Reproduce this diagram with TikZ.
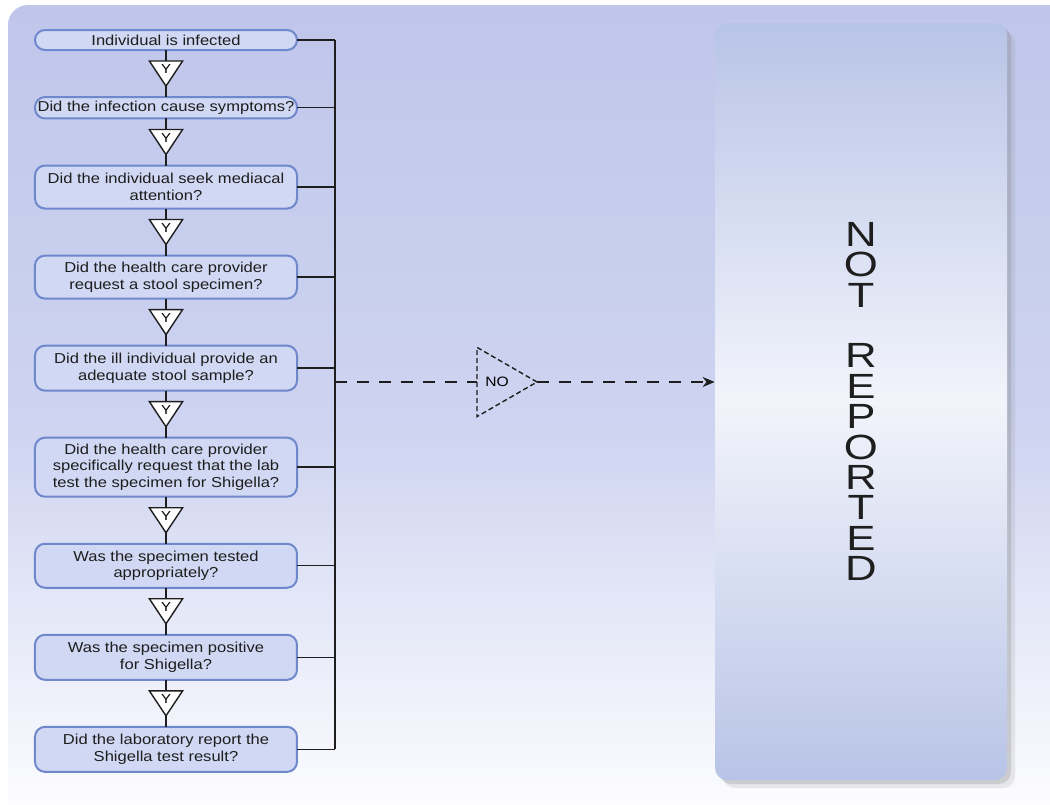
\documentclass[tikz,border=0pt]{standalone}
\usepackage{fontspec}
\setmainfont{Liberation Sans}[FakeStretch=1.15]
\newfontfamily\ymarkfont{Liberation Sans}
\newfontfamily\stackfont{Liberation Sans}[FakeStretch=1.25]
\usepackage{xcolor}
\definecolor{pagetop}{HTML}{C0C6EA}
\definecolor{pagemid}{HTML}{CDD3F0}
\definecolor{boxfill}{HTML}{D0D8F3}
\definecolor{boxborder}{HTML}{6F88CC}
\definecolor{reportfill}{HTML}{B8C4E7}
\definecolor{reportglow}{HTML}{F2F4FB}
\definecolor{linecolor}{HTML}{1E1E1E}
\usepackage{tikz}
\usetikzlibrary{positioning,arrows.meta,shapes.geometric,shadows}
\tikzset{
    question/.style={
        rectangle,
        rounded corners=5pt,
        draw=boxborder,
        fill=boxfill,
        text=linecolor,
        line width=1pt,
        minimum width=131pt,
        minimum height=22pt,
        inner xsep=1pt,
        inner ysep=2pt,
        outer sep=0pt,
        align=center,
        font=\fontsize{7.2}{8.3}\selectfont,
    },
    yesmark/.style={
        regular polygon,
        regular polygon sides=3,
        shape border rotate=180,
        draw=linecolor,
        fill=white,
        line width=0.7pt,
        minimum size=16.7pt,
        inner sep=0pt,
        outer sep=0pt,
        xscale=1.15,
        font=\ymarkfont\fontsize{6.5}{7}\selectfont,
    },
    nomark/.style={
        regular polygon,
        regular polygon sides=3,
        shape border rotate=270,
        draw=linecolor,
        dash pattern=on 2.5pt off 1.5pt,
        line width=0.7pt,
        minimum size=40pt,
        inner sep=0pt,
        outer sep=0pt,
        font=\fontsize{6.8}{8}\selectfont,
    },
    reportbox/.style={
        rectangle,
        rounded corners=6pt,
        top color=reportfill,
        bottom color=reportfill,
        middle color=reportglow,
        drop shadow={shadow xshift=4pt, shadow yshift=-4pt, opacity=0.15},
        drop shadow={shadow xshift=2pt, shadow yshift=-2pt, opacity=0.25},
        text=linecolor,
        minimum width=146pt,
        minimum height=378.5pt,
        align=center,
        font=\stackfont\fontsize{17.5}{15.2}\selectfont,
    },
    link/.style={
        line width=0.7pt,
        draw=linecolor,
    },
    nolink/.style={
        link,
        dash pattern=on 6pt off 5pt,
    },
    noarrow/.style={
        nolink,
        -{Stealth[length=6pt, width=5pt]},
    },
}

\begin{document}
\begin{tikzpicture}[x=0.5pt, y=-0.5pt, node distance=5.5pt]
    \useasboundingbox (0,0) rectangle (1050,804);

    % Backdrop
    \shade[top color=pagetop, bottom color=white, middle color=pagemid, rounded corners=10pt]
        (8,5) rectangle (1070,830);

    % Question chain
    \node[question, minimum height=10pt] (q1) at (166,40) {Individual is infected};
    \node[yesmark, below=of q1] (y1) {Y};
    \node[question, minimum height=10pt, below=of y1] (q2) {Did the infection cause symptoms?};
    \node[yesmark, below=of q2] (y2) {Y};
    \node[question, minimum height=21.5pt, below=of y2] (q3) {Did the individual seek mediacal\\attention?};
    \node[yesmark, below=of q3] (y3) {Y};
    \node[question, minimum height=21.5pt, below=of y3] (q4) {Did the health care provider\\request a stool specimen?};
    \node[yesmark, below=of q4] (y4) {Y};
    \node[question, minimum height=22.5pt, below=of y4] (q5) {Did the ill individual provide an\\adequate stool sample?};
    \node[yesmark, below=of q5] (y5) {Y};
    \node[question, minimum height=29.5pt, below=of y5] (q6) {Did the health care provider\\specifically request that the lab\\test the specimen for Shigella?};
    \node[yesmark, below=of q6] (y6) {Y};
    \node[question, below=of y6] (q7) {Was the specimen tested\\appropriately?};
    \node[yesmark, below=of q7] (y7) {Y};
    \node[question, minimum height=22.5pt, below=of y7] (q8) {Was the specimen positive\\for Shigella?};
    \node[yesmark, below=of q8] (y8) {Y};
    \node[question, minimum height=22.5pt, below=of y8] (q9) {Did the laboratory report the\\Shigella test result?};

    % Outcome
    \node[reportbox] (report) at (861,401.5) {N\\O\\T\\[15.2pt]R\\E\\P\\O\\R\\T\\E\\D};
    \node[nomark] (no) at (497,382) {NO};
    \coordinate (bus) at (335,40);

    % Yes path
    \draw[link] (q1.south) -- (y1.north);
    \draw[link] (y1.south) -- (q2.north);
    \draw[link] (q2.south) -- (y2.north);
    \draw[link] (y2.south) -- (q3.north);
    \draw[link] (q3.south) -- (y3.north);
    \draw[link] (y3.south) -- (q4.north);
    \draw[link] (q4.south) -- (y4.north);
    \draw[link] (y4.south) -- (q5.north);
    \draw[link] (q5.south) -- (y5.north);
    \draw[link] (y5.south) -- (q6.north);
    \draw[link] (q6.south) -- (y6.north);
    \draw[link] (y6.south) -- (q7.north);
    \draw[link] (q7.south) -- (y7.north);
    \draw[link] (y7.south) -- (q8.north);
    \draw[link] (q8.south) -- (y8.north);
    \draw[link] (y8.south) -- (q9.north);

    % No path
    \draw[link] (q1.east) -- (q1.east -| bus);
    \draw[link] (q2.east) -- (q2.east -| bus);
    \draw[link] (q3.east) -- (q3.east -| bus);
    \draw[link] (q4.east) -- (q4.east -| bus);
    \draw[link] (q5.east) -- (q5.east -| bus);
    \draw[link] (q6.east) -- (q6.east -| bus);
    \draw[link] (q7.east) -- (q7.east -| bus);
    \draw[link] (q8.east) -- (q8.east -| bus);
    \draw[link] (q9.east) -- (q9.east -| bus);
    \draw[link] (q1.east -| bus) -- (q9.east -| bus);
    \draw[nolink] (no.west -| bus) -- (no.west);
    \draw[noarrow] (no.east) -- (no.east -| report.west);

\end{tikzpicture}
\end{document}
